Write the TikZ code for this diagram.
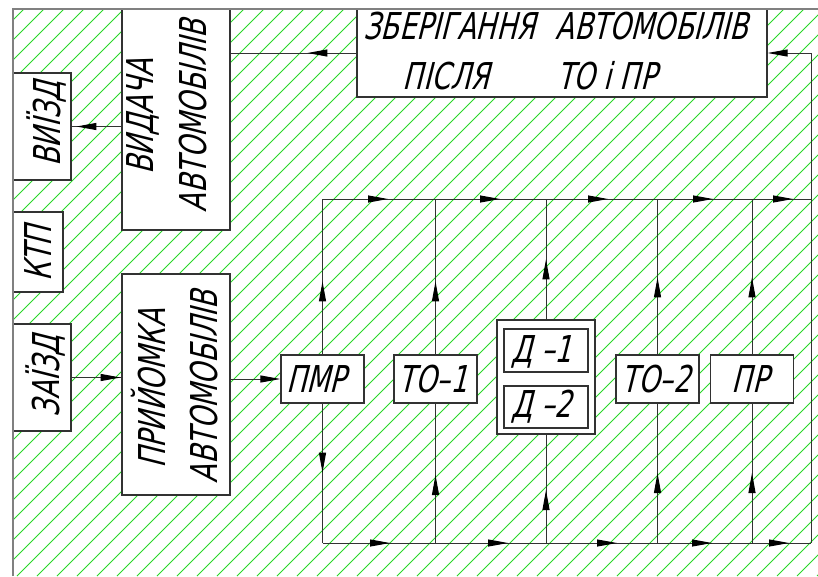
\documentclass[tikz,border=0pt]{standalone}
\usepackage{fontspec}
\usetikzlibrary{arrows.meta,decorations.markings}
\newfontfamily\iso{DejaVu Sans}[FakeSlant=0.25,FakeStretch=0.73]
\definecolor{hatchgreen}{RGB}{40,215,40}
\definecolor{linegray}{RGB}{50,50,50}
\definecolor{bordergray}{RGB}{128,128,128}
\tikzset{
  mytip/.tip={Triangle[length=20pt,width=7pt,color=black]},
  box/.style={draw=linegray,line width=1.2pt,fill=white,inner sep=0pt},
  txt/.style={font=\iso\fontsize{37}{44}\selectfont,inner sep=0pt,text height=27pt,text depth=0pt},
  conn/.style={draw=linegray,line width=1pt},
  hatch/.style={draw=hatchgreen,line width=0.8pt},
  arrat/.style={postaction={decorate,decoration={markings,mark=at position #1 with {\arrow{mytip}}}}}
}
\begin{document}
\begin{tikzpicture}[x=1pt,y=-1pt]
\useasboundingbox (0,0) rectangle (818,576);
% hatch
\begin{scope}
\clip (13,9) rectangle (818,576);
\foreach \k in {0,...,70}{
  \pgfmathtruncatemacro\K{13+20*\k}
  \draw[hatch] ({\K-576},576) -- (\K,0);
}
\end{scope}
% boxes
\node[box,minimum width=108pt,minimum height=221pt] (vyd) at (176,119.5) {};
\node[box,minimum width=58pt,minimum height=107pt] (out) at (42,126.5) {};
\node[box,minimum width=50pt,minimum height=80pt] (ktp) at (38,252) {};
\node[box,minimum width=58pt,minimum height=107pt] (in) at (42,377.5) {};
\node[box,minimum width=108pt,minimum height=221pt] (pry) at (176,384.5) {};
\node[box,minimum width=410pt,minimum height=88pt] (zb) at (562,53) {};
\node[box,minimum width=83pt,minimum height=48pt] (pmr) at (322.5,379) {};
\node[box,minimum width=83pt,minimum height=48pt] (to1) at (435.5,379) {};
\node[box,minimum width=98pt,minimum height=114pt] (d) at (546,377) {};
\node[box,minimum width=84pt,minimum height=43pt] (d1) at (546,350.5) {};
\node[box,minimum width=84pt,minimum height=42pt] (d2) at (546,407) {};
\node[box,minimum width=83pt,minimum height=48pt] (to2) at (657.5,379) {};
\node[box,minimum width=83pt,minimum height=48pt] (pr) at (752,379) {};
% texts
\node[txt,rotate=90] (tvyd1) at (140,117) {ВИДАЧА};
\node[txt,rotate=90] (tvyd2) at (192.5,116) {АВТОМОБІЛІВ};
\node[txt,rotate=90] (tout) at (47,124) {ВИЇЗД};
\node[txt,rotate=90] (tktp) at (38,254) {КТП};
\node[txt,rotate=90] (tin) at (46,376) {ЗАЇЗД};
\node[txt,rotate=90] (tpry1) at (152,389) {ПРИЙОМКА};
\node[txt,rotate=90] (tpry2) at (204,387) {АВТОМОБІЛІВ};
\node[txt] (tzb1) at (556,26) {ЗБЕРІГАННЯ\hspace{12pt} АВТОМОБІЛІВ};
\node[txt] (tzb2) at (446,76) {ПІСЛЯ};
\node[txt] (tzb3) at (607,76) {ТО і ПР};
\node[txt] (tpmr) at (316,379) {ПМР};
\node[txt] (tto1) at (433,379) {ТО–1};
\node[txt] (td1) at (542,349) {Д –1};
\node[txt] (td2) at (542,404) {Д –2};
\node[txt] (tto2) at (656,379) {ТО–2};
\node[txt] (tpr) at (750,379) {ПР};
% connector coordinates
\coordinate (tr) at (811,199);
\coordinate (br) at (811,543);
\coordinate (rc) at (811,53);
% left connectors
\draw[conn,arrat=49pt] (zb.west) -- (zb.west -| vyd.east);
\draw[conn,arrat=45pt] (vyd.west |- out.east) -- (out.east);
\draw[conn,arrat=49pt] (in.east) -- (in.east -| pry.west);
\draw[conn,-{mytip}] (pry.east |- pmr.west) -- (pmr.west);
% right loop
\draw[conn] (br) -- (rc);
\draw[conn,-{mytip}] (rc) -- (zb.east);
% top and bottom collector lines
\draw[conn,arrat=65.5pt,arrat=177.5pt,arrat=285.5pt,arrat=390.5pt,arrat=470.5pt] (pmr.north |- tr) -- (tr);
\draw[conn,arrat=67.5pt,arrat=185.5pt,arrat=294.5pt,arrat=389.5pt,arrat=466.5pt] (pmr.south |- br) -- (br);
% verticals
\draw[conn,arrat=73pt] (pmr.north) -- (pmr.north |- tr);
\draw[conn,arrat=69pt] (pmr.south) -- (pmr.south |- br);
\draw[conn,arrat=68pt] (to1.south |- br) -- (to1.south);
\draw[conn,arrat=73pt] (to1.north) -- (to1.north |- tr);
\draw[conn,arrat=53pt] (d.south |- br) -- (d.south);
\draw[conn,arrat=60pt] (d.north) -- (d.north |- tr);
\draw[conn,arrat=70pt] (to2.south |- br) -- (to2.south);
\draw[conn,arrat=77pt] (to2.north) -- (to2.north |- tr);
\draw[conn,arrat=70pt] (pr.south |- br) -- (pr.south);
\draw[conn,arrat=77pt] (pr.north) -- (pr.north |- tr);
% outer border
\draw[draw=bordergray,line width=2pt] (13,576) -- (13,9) -- (818,9);
\end{tikzpicture}
\end{document}
